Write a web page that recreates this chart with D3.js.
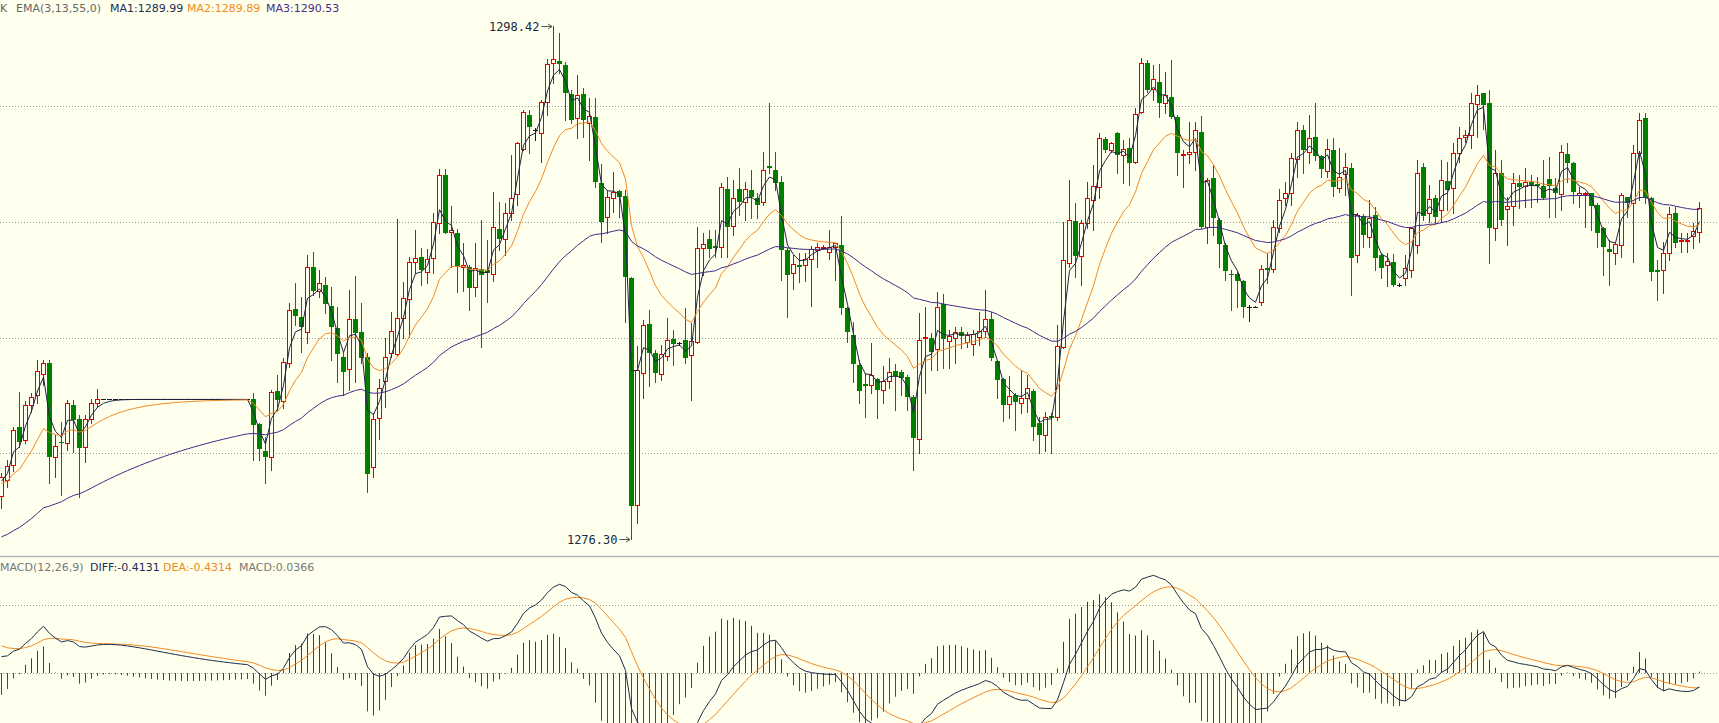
<!DOCTYPE html>
<html><head><meta charset="utf-8">
<script src="https://cdn.jsdelivr.net/npm/d3@7"></script>
<style>html,body{margin:0;padding:0;background:#FFFFEE;overflow:hidden}</style>
</head><body>
<svg id="c" width="1719" height="723"></svg>
<script>
// ---------- DATA ----------
const openP = [
1278.16,1278.85,1279.50,1281.13,1280.58,1282.09,1282.52,1283.42,1283.89,1279.83,1280.50,1280.44,1282.09,1281.50,1280.26,1281.47,1282.16,
1282.33,1282.33,1282.33,1282.33,1282.33,1282.33,1282.33,1282.33,1282.33,1282.33,1282.33,1282.33,1282.33,1282.33,1282.33,1282.33,1282.33,1282.33,1282.33,1282.33,1282.33,1282.33,1282.33,1282.33,1282.33,
1282.33,1281.27,1280.10,1279.83,1282.69,1282.26,1283.88,1286.21,1285.90,1285.25,
1288.03,1287.02,1287.26,1286.37,1285.39,1284.14,1283.63,1285.80,1285.22,1284.14,
1279.40,1281.51,1283.14,1284.32,1284.29,1285.83,1286.64,1288.24,1288.46,1287.81,
1288.41,1289.92,1291.99,1289.55,1289.49,1288.03,1288.05,1287.16,1287.94,1287.91,
1287.72,1289.68,1289.23,1290.36,1291.19,1293.12,1294.60,1293.95,1293.81,1295.14,
1296.83,1296.94,1296.76,1295.50,1294.46,1295.50,1294.24,1294.50,1291.68,1290.18,
1291.00,1291.32,1291.10,1287.58,1277.77,1283.48,1285.58,1284.34,1283.42,1284.21,
1284.92,1284.75,1284.89,1284.24,1284.82,1288.85,1289.23,1288.95,1288.89,1291.42,
1289.81,1291.40,1290.83,1291.36,1291.00,1290.86,1292.40,1292.22,1291.71,1288.77,
1287.77,1288.13,1288.13,1288.37,1288.77,1288.89,1288.70,1288.92,1288.99,1286.26,
1285.11,1283.82,1282.99,1282.95,1283.19,1282.74,1283.14,1283.56,1283.53,1283.31,
1282.45,1280.61,1284.96,1284.96,1284.49,1286.43,1284.86,1284.96,1285.25,1284.82,
1284.72,1285.03,1285.29,1285.78,1284.00,1283.20,1282.12,1282.52,1282.19,1282.41,
1282.71,1281.30,1280.79,1281.62,1281.56,1284.60,1288.23,1290.02,1288.51,1289.93,
1290.93,1291.51,1293.56,1293.09,1293.81,1292.87,1293.16,1292.58,1294.71,1296.83,
1295.70,1296.04,1295.10,1295.39,1294.53,1292.86,1292.91,1293.02,1293.88,1289.78,
1291.87,1290.07,1288.99,1287.74,1287.74,1287.45,1286.33,1286.33,1286.54,1287.98,
1287.94,1289.71,1291.00,1291.22,1292.69,1293.95,1293.02,1293.63,1292.83,1292.19,
1293.09,1291.44,1292.05,1292.30,1288.56,1290.24,1289.35,1290.28,1288.56,1288.13,
1288.26,1287.27,1287.55,1287.91,1288.99,1292.37,1290.36,1291.01,1290.50,1291.75,
1291.43,1292.94,1293.66,1293.73,1295.07,1295.53,1295.10,1289.71,1292.08,1290.53,
1290.67,1291.68,1291.53,1291.69,1291.62,1291.53,1291.84,1291.46,1291.17,1292.91,
1292.51,1291.15,1291.22,1291.22,1290.71,1289.71,1288.80,1288.63,1288.99,1291.05,
1290.82,1292.94,1294.45,1291.00,1287.91,1287.91,1288.63,1290.39,1289.17,1289.17,
1289.38,1289.56];
const highP = [
1279.14,1279.72,1281.13,1282.66,1282.26,1282.59,1284.03,1284.03,1284.03,1280.79,1281.37,1282.30,1282.30,1281.66,1281.66,1282.33,1282.77,
1282.33,1282.33,1282.33,1282.33,1282.33,1282.33,1282.33,1282.33,1282.33,1282.33,1282.33,1282.33,1282.33,1282.33,1282.33,1282.33,1282.33,1282.33,1282.33,1282.33,1282.33,1282.33,1282.33,1282.33,1282.33,
1282.59,1281.30,1280.72,1282.73,1283.38,1284.10,1286.47,1287.34,1286.76,1288.56,
1288.67,1287.91,1287.62,1287.19,1286.33,1284.32,1287.05,1287.65,1286.50,1284.32,
1281.73,1283.19,1284.96,1286.11,1290.10,1287.41,1288.49,1289.64,1288.87,1288.80,
1290.36,1292.25,1292.25,1290.67,1289.66,1289.06,1288.13,1289.06,1290.07,1289.21,
1291.26,1290.86,1290.79,1292.87,1293.45,1294.81,1294.81,1294.02,1295.24,1297.00,
1298.42,1298.15,1296.90,1295.68,1296.32,1295.75,1295.32,1295.32,1292.48,1291.36,
1292.15,1291.36,1291.36,1287.62,1284.63,1285.75,1286.18,1284.46,1284.67,1285.83,
1285.32,1284.82,1286.26,1285.61,1289.78,1289.49,1289.64,1289.64,1291.65,1291.91,
1291.79,1292.30,1291.72,1292.22,1291.22,1293.02,1295.10,1293.02,1291.97,1288.85,
1288.56,1288.63,1288.63,1288.95,1289.06,1288.99,1289.64,1289.09,1290.24,1286.33,
1285.68,1284.03,1283.46,1284.75,1283.24,1283.77,1284.10,1283.86,1283.60,1283.38,
1282.52,1286.04,1286.33,1285.18,1286.98,1286.88,1285.32,1285.47,1285.44,1285.25,
1285.32,1286.11,1287.05,1286.11,1284.03,1283.24,1283.34,1282.62,1283.60,1283.38,
1282.77,1281.59,1281.80,1281.73,1285.54,1290.00,1291.79,1290.79,1290.07,1291.72,
1292.44,1293.84,1293.66,1293.45,1293.88,1293.52,1293.59,1294.89,1297.04,1296.97,
1296.76,1296.80,1296.47,1296.97,1294.60,1293.09,1294.31,1294.31,1294.55,1291.87,
1292.44,1290.14,1289.06,1287.91,1287.84,1287.48,1286.40,1286.36,1288.13,1288.63,
1290.07,1291.39,1291.72,1292.94,1294.31,1294.17,1294.60,1295.13,1292.87,1293.55,
1293.59,1293.16,1292.97,1292.51,1290.36,1290.33,1290.93,1290.64,1288.63,1288.63,
1288.61,1287.34,1288.56,1289.78,1292.66,1292.51,1291.58,1291.15,1292.66,1292.59,
1293.37,1294.09,1293.95,1295.53,1295.89,1295.56,1295.68,1293.09,1292.66,1291.07,
1292.08,1292.01,1292.30,1292.01,1291.91,1292.66,1292.80,1291.87,1293.30,1293.37,
1292.58,1291.51,1291.29,1291.25,1290.79,1289.78,1289.21,1289.09,1291.22,1291.08,
1293.30,1294.67,1294.67,1291.08,1288.34,1289.13,1290.64,1290.64,1289.49,1289.49,
1289.93,1290.86];
const lowP = [
1277.63,1278.56,1279.25,1280.29,1280.44,1281.80,1282.16,1282.95,1278.71,1279.00,1278.20,1280.15,1280.07,1278.13,1279.64,1281.30,1282.02,
1282.33,1282.33,1282.33,1282.33,1282.33,1282.33,1282.33,1282.33,1282.33,1282.33,1282.33,1282.33,1282.33,1282.33,1282.33,1282.33,1282.33,1282.33,1282.33,1282.33,1282.33,1282.33,1282.33,1282.33,1282.33,
1279.72,1279.72,1278.71,1279.28,1281.87,1281.94,1283.74,1285.54,1284.39,1284.78,
1286.83,1286.76,1286.04,1284.03,1283.09,1282.52,1282.73,1283.09,1283.88,1278.32,
1279.00,1280.61,1282.01,1284.17,1284.24,1284.96,1285.03,1287.77,1287.26,1287.34,
1287.77,1289.49,1289.49,1288.05,1286.98,1287.02,1286.18,1286.80,1284.60,1286.54,
1287.45,1288.77,1288.56,1290.07,1290.71,1293.09,1292.97,1293.52,1292.58,1294.60,
1295.96,1296.40,1294.38,1294.24,1293.59,1293.66,1292.66,1291.51,1289.13,1289.49,
1290.43,1290.21,1285.68,1276.30,1276.98,1282.37,1282.91,1283.09,1283.17,1284.03,
1283.81,1284.67,1283.91,1282.30,1284.75,1287.69,1288.49,1288.49,1288.49,1288.49,
1289.42,1290.28,1290.07,1290.14,1290.14,1290.71,1292.08,1291.36,1287.48,1285.90,
1287.09,1287.41,1287.45,1286.36,1288.05,1288.80,1288.37,1287.48,1286.01,1284.82,
1283.09,1282.19,1281.59,1282.59,1281.52,1282.19,1282.81,1281.87,1282.52,1281.87,
1279.28,1280.00,1282.59,1283.60,1283.60,1283.67,1283.67,1283.89,1284.53,1284.60,
1284.24,1284.67,1285.03,1284.03,1282.38,1281.41,1281.51,1281.01,1281.73,1281.80,
1280.58,1280.00,1280.12,1280.00,1281.44,1284.53,1288.05,1287.60,1287.27,1289.72,
1289.64,1291.00,1293.02,1293.02,1292.08,1291.68,1291.59,1292.51,1294.67,1295.61,
1295.24,1294.52,1294.67,1294.45,1292.01,1291.51,1292.51,1292.23,1289.71,1289.09,
1289.42,1288.05,1287.48,1286.19,1286.33,1285.90,1285.73,1286.30,1286.40,1287.34,
1287.84,1289.57,1290.72,1290.72,1291.94,1292.11,1292.51,1292.66,1291.94,1291.94,
1291.10,1291.29,1291.15,1286.83,1288.27,1288.92,1288.92,1287.91,1287.55,1287.22,
1287.22,1287.22,1287.27,1287.62,1288.63,1290.07,1290.00,1289.93,1290.00,1290.50,
1290.36,1292.58,1293.45,1293.16,1293.66,1294.00,1288.20,1289.21,1289.86,1288.99,
1289.86,1290.58,1290.64,1290.64,1290.86,1290.96,1290.19,1290.21,1290.50,1291.72,
1290.79,1290.64,1289.78,1289.64,1288.92,1287.69,1287.27,1288.17,1288.49,1290.21,
1288.27,1290.93,1290.80,1287.48,1286.62,1286.91,1288.34,1288.92,1288.70,1288.70,
1288.85,1289.13];
const closeP = [
1278.99,1279.47,1281.00,1280.50,1282.09,1282.45,1283.57,1283.89,1279.86,1280.32,1280.44,1282.16,1281.44,1280.22,1281.47,1282.16,1282.33,
1282.33,1282.33,1282.33,1282.33,1282.33,1282.33,1282.33,1282.33,1282.33,1282.33,1282.33,1282.33,1282.33,1282.33,1282.33,1282.33,1282.33,1282.33,1282.33,1282.33,1282.33,1282.33,1282.33,1282.33,1282.33,
1281.22,1280.18,1279.83,1282.63,1282.30,1283.96,1286.18,1285.93,1285.47,1288.03,
1287.02,1287.34,1286.43,1285.47,1284.27,1283.50,1285.80,1285.21,1284.13,1279.11,
1281.48,1282.81,1284.17,1285.29,1285.83,1286.69,1288.27,1288.44,1287.91,1288.37,
1289.97,1291.99,1289.52,1289.64,1288.05,1288.13,1287.15,1287.98,1287.69,1287.80,
1289.75,1289.23,1290.36,1291.03,1293.40,1294.71,1294.09,1293.95,1295.17,1296.78,
1297.00,1296.80,1295.53,1294.38,1295.46,1294.38,1294.57,1291.72,1290.00,1291.05,
1291.29,1291.05,1287.62,1277.73,1283.60,1285.54,1284.34,1283.48,1284.27,1284.89,
1284.72,1284.75,1284.13,1284.86,1288.85,1289.03,1288.80,1288.86,1291.48,1289.75,
1291.00,1290.86,1291.40,1291.05,1290.71,1292.22,1292.30,1291.68,1288.77,1287.69,
1288.17,1288.05,1288.37,1288.80,1288.89,1288.92,1288.92,1289.06,1286.26,1285.25,
1283.86,1282.71,1282.92,1283.38,1282.74,1283.14,1283.53,1283.34,1283.24,1282.45,
1280.65,1284.89,1285.03,1284.39,1286.33,1284.94,1285.06,1285.25,1285.06,1285.11,
1285.14,1285.29,1285.78,1284.10,1283.17,1282.09,1282.48,1282.23,1282.41,1282.80,
1281.16,1280.79,1281.59,1281.52,1284.64,1288.34,1290.07,1288.51,1289.95,1291.00,
1291.53,1293.59,1293.09,1293.40,1292.87,1293.12,1292.51,1294.64,1296.83,1295.68,
1296.14,1295.13,1295.46,1294.53,1292.94,1292.92,1293.01,1293.95,1289.78,1291.79,
1290.14,1289.02,1287.88,1287.68,1287.45,1286.30,1286.33,1286.33,1287.94,1287.91,
1289.78,1290.93,1291.25,1292.73,1293.95,1293.09,1293.59,1292.83,1292.25,1293.12,
1291.48,1291.91,1292.37,1288.42,1290.28,1289.42,1290.14,1288.42,1287.98,1288.32,
1287.27,1287.27,1287.98,1289.71,1292.08,1290.24,1290.96,1290.19,1291.79,1291.36,
1292.97,1293.59,1293.75,1295.10,1295.46,1295.03,1289.71,1292.08,1290.07,1290.67,
1291.65,1291.51,1291.69,1291.58,1291.53,1291.03,1291.53,1291.22,1293.01,1292.51,
1291.29,1291.25,1291.25,1290.67,1289.52,1288.89,1288.70,1289.02,1291.15,1290.79,
1292.97,1294.38,1291.00,1287.84,1287.84,1288.63,1290.33,1289.09,1289.21,1289.21,
1289.61,1290.57];

// indicator starting values read at the left edge of the picture
const emaPeriods = [3, 13, 55];
const emaStart = [1278.8, 1278.7, 1276.4];
const macdStart = {ema12: 1278.70, ema26: 1278.22, dea: 0.80};

// grid / axis values
const priceGrid = [1295, 1290, 1285, 1280];
const macdGrid = [2, 0];

// legend texts
const mainLegend = [
  {t: "K", c: "#666666", x: 0},
  {t: "EMA(3,13,55,0)", c: "#666666", x: 16},
  {t: "MA1:1289.99", c: "#1e2d55", x: 110},
  {t: "MA2:1289.89", c: "#f08a24", x: 187},
  {t: "MA3:1290.53", c: "#4a2a8a", x: 266}];
const macdLegend = [
  {t: "MACD(12,26,9)", c: "#777777", x: 0},
  {t: "DIFF:-0.4131", c: "#1e2d55", x: 90},
  {t: "DEA:-0.4314", c: "#f08a24", x: 163},
  {t: "MACD:0.0366", c: "#777777", x: 239}];

// ---------- DRAW ----------
const W = 1719, H = 723;
const BG = "#FFFFEE", UP = "#E00000", DOWN = "#007F00", DOJI = "#1a1a2a";
const svg = d3.select("#c");
svg.append("rect").attr("width", W).attr("height", H).attr("fill", BG);

const n = closeP.length;
const x = d3.scaleLinear().domain([0, n - 1]).range([1.5, 1.5 + 6 * (n - 1)]);
const y = d3.scaleLinear().domain([1280, 1295]).range([453.4, 105.7]);
const ym = d3.scaleLinear().domain([0, 2]).range([673, 605]);
const py = v => Math.round(y(v)) + 0.5;

function ema(arr, period, start) {
  const a = 2 / (period + 1);
  const out = [start];
  for (let i = 1; i < arr.length; i++) out.push(a * arr[i] + (1 - a) * out[i - 1]);
  return out;
}

// grids
const grid = svg.append("g");
priceGrid.forEach(p => grid.append("line").attr("x1", 0).attr("x2", W)
  .attr("y1", py(p)).attr("y2", py(p)).attr("stroke", "#9a9a9a").attr("stroke-dasharray", "1,2"));
macdGrid.forEach(v => { const yy = Math.round(ym(v)) + 0.5;
  grid.append("line").attr("x1", 0).attr("x2", W).attr("y1", yy).attr("y2", yy)
    .attr("stroke", "#9a9a9a").attr("stroke-dasharray", "1,2"); });

// panel separator
svg.append("line").attr("x1", 0).attr("x2", W).attr("y1", 556.5).attr("y2", 556.5)
  .attr("stroke", "#b4b4b4").attr("stroke-width", 1.5);

// clips
svg.append("clipPath").attr("id", "mainClip").append("rect").attr("x", 0).attr("y", 0).attr("width", W).attr("height", 555);
svg.append("clipPath").attr("id", "macdClip").append("rect").attr("x", 0).attr("y", 558).attr("width", W).attr("height", H - 558);

const gMain = svg.append("g").attr("clip-path", "url(#mainClip)");

// candles
const idx = d3.range(n);
const cg = gMain.append("g");
idx.forEach(i => {
  const o = openP[i], h = highP[i], l = lowP[i], c = closeP[i];
  const cx = x(i);
  const col = c > o ? UP : (c < o ? DOWN : DOJI);
  if (h !== l) cg.append("line").attr("x1", cx).attr("x2", cx).attr("y1", Math.round(y(h))).attr("y2", Math.round(y(l)) + 1)
    .attr("stroke", col).attr("stroke-width", 1);
  if (c > o) {
    const t = py(c), b = py(o);
    cg.append("rect").attr("x", cx - 2).attr("y", t).attr("width", 4).attr("height", Math.max(b - t, 1))
      .attr("fill", BG).attr("stroke", UP).attr("stroke-width", 1);
  } else if (c < o) {
    const t = Math.round(y(o)), b = Math.round(y(c));
    cg.append("rect").attr("x", cx - 2.5).attr("y", t).attr("width", 5).attr("height", Math.max(b - t, 1)).attr("fill", DOWN);
  } else {
    cg.append("line").attr("x1", cx - 2.5).attr("x2", cx + 2.5).attr("y1", py(c)).attr("y2", py(c))
      .attr("stroke", DOJI).attr("stroke-width", 1);
  }
});

// EMA lines
const emaColors = ["#1e2340", "#f08a24", "#3f2a86"];
emaPeriods.forEach((p, k) => {
  const vals = ema(closeP, p, emaStart[k]);
  gMain.append("path").datum(vals)
    .attr("d", d3.line().x((d, i) => x(i)).y(d => y(d)))
    .attr("fill", "none").attr("stroke", emaColors[k]).attr("stroke-width", 1);
});

// max / min markers
function mark(i, v) {
  const cx = x(i), cy = Math.round(y(v)) + 0.5;
  svg.append("line").attr("x1", cx - 12).attr("x2", cx - 1.5).attr("y1", cy).attr("y2", cy).attr("stroke", "#555");
  svg.append("path").attr("d", `M${cx - 1.5},${cy} L${cx - 5.5},${cy - 2.5} M${cx - 1.5},${cy} L${cx - 5.5},${cy + 2.5}`)
    .attr("stroke", "#555").attr("fill", "none");
  svg.append("text").attr("x", cx - 14).attr("y", cy + 4.5).attr("text-anchor", "end")
    .attr("font-family", "DejaVu Sans Mono, monospace").attr("font-size", 12).attr("fill", "#1a2a44")
    .text(v.toFixed(2));
}
const iMax = d3.maxIndex(highP), iMin = d3.minIndex(lowP);
mark(iMax, highP[iMax]);
mark(iMin, lowP[iMin]);

// MACD
const e12 = ema(closeP, 12, macdStart.ema12);
const e26 = ema(closeP, 26, macdStart.ema26);
const diff = e12.map((v, i) => v - e26[i]);
const dea = ema(diff, 9, macdStart.dea);
const hist = diff.map((v, i) => 2 * (v - dea[i]));

const gM = svg.append("g").attr("clip-path", "url(#macdClip)");
idx.forEach(i => {
  const v = hist[i];
  gM.append("line").attr("x1", x(i)).attr("x2", x(i)).attr("y1", ym(0)).attr("y2", ym(v))
    .attr("stroke", v >= 0 ? "#D00000" : "#007A00").attr("stroke-width", 1);
});
gM.append("path").datum(dea).attr("d", d3.line().x((d, i) => x(i)).y(d => ym(d)))
  .attr("fill", "none").attr("stroke", "#f08a24").attr("stroke-width", 1);
gM.append("path").datum(diff).attr("d", d3.line().x((d, i) => x(i)).y(d => ym(d)))
  .attr("fill", "none").attr("stroke", "#1e2d4a").attr("stroke-width", 1);

// legends
function legend(items, yy) {
  const t = svg.append("text").attr("y", yy).attr("font-family", "DejaVu Sans, Verdana, sans-serif").attr("font-size", 11);
  items.forEach(it => t.append("tspan").attr("x", it.x).attr("fill", it.c).text(it.t));
}
legend(mainLegend, 12);
legend(macdLegend, 571);
</script>
</body></html>
